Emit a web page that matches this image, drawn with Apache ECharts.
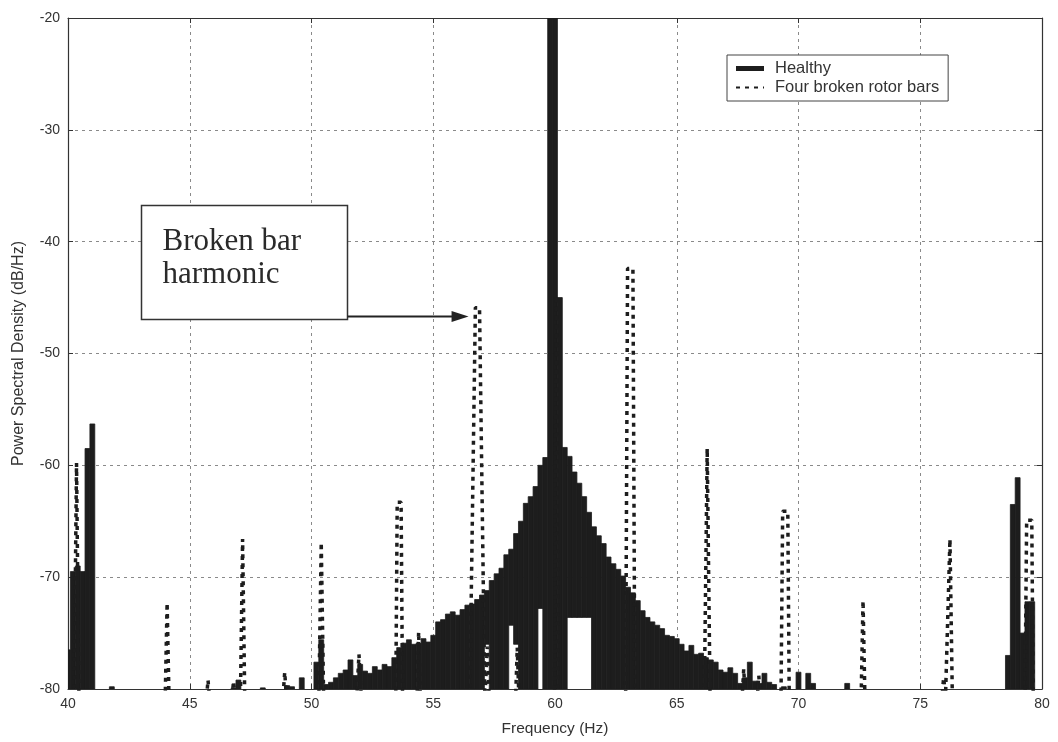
<!DOCTYPE html>
<html>
<head>
<meta charset="utf-8">
<title>Power Spectral Density</title>
<script src="https://cdn.jsdelivr.net/npm/echarts@6.0.0/dist/echarts.min.js"></script>
<style>
  html, body { margin: 0; padding: 0; background: #fff; }
  #chart { width: 1058px; height: 742px; }
</style>
</head>
<body>
<div id="chart"></div>
<script>
// Frequency bins of the healthy spectrum (Hz)
const freqStart = 40;
const freqStep = 0.2;

// Healthy motor PSD (dB/Hz), one value per 0.2 Hz bin, one row per Hz (x.0 .. x.8)
const healthyPsd = [
  -76.5, -69.5, -69.0, -69.5, -58.5,   // 40
  -56.3, -81, -81, -81, -79.8,         // 41
  -81, -81, -81, -81, -81,             // 42
  -81, -81, -81, -81, -81,             // 43
  -81, -81, -81, -81, -81,             // 44
  -81, -81, -81, -81, -81,             // 45
  -81, -81, -81, -81, -79.9,           // 46
  -79.2, -81, -81, -81, -81,           // 47
  -79.9, -81, -81, -81, -81,           // 48
  -79.7, -79.8, -81, -79.0, -81,       // 49
  -81, -77.6, -75.6, -79.6, -79.4,     // 50
  -79.0, -78.6, -78.3, -77.4, -78.8,   // 51
  -77.8, -78.4, -78.6, -78.0, -78.3,   // 52
  -77.8, -78.0, -77.2, -76.3, -75.9,   // 53
  -75.6, -76.0, -75.9, -75.5, -75.8,   // 54
  -75.2, -74.0, -73.8, -73.3, -73.1,   // 55
  -73.4, -72.9, -72.5, -72.4, -72.0,   // 56
  -71.6, -71.2, -70.3, -69.7, -69.2,   // 57
  -68.0, -67.5, -66.1, -65.0, -63.4,   // 58
  -62.8, -61.9, -60.0, -59.3, -12.0,   // 59
  -12.0, -45.0, -58.4, -59.2, -60.6,   // 60
  -61.6, -62.8, -64.2, -65.5, -66.3,   // 61
  -67.0, -68.2, -68.8, -69.3, -69.9,   // 62
  -70.9, -71.4, -72.1, -73.0, -73.6,   // 63
  -74.0, -74.3, -74.6, -75.2, -75.3,   // 64
  -75.5, -76.0, -76.6, -76.1, -76.9,   // 65
  -76.8, -77.2, -77.4, -77.6, -78.3,   // 66
  -78.5, -78.1, -78.6, -79.5, -79.0,   // 67
  -77.6, -79.3, -79.5, -78.6, -79.4,   // 68
  -79.6, -81, -79.8, -81, -81,         // 69
  -78.5, -81, -78.6, -79.5, -81,       // 70
  -81, -81, -81, -81, -81,             // 71
  -79.5, -81, -81, -81, -81,           // 72
  -81, -81, -81, -81, -81,             // 73
  -81, -81, -81, -81, -81,             // 74
  -81, -81, -81, -81, -81,             // 75
  -81, -81, -81, -81, -81,             // 76
  -81, -81, -81, -81, -81,             // 77
  -81, -81, -81, -77.0, -63.5,         // 78
  -61.1, -75.0, -72.2, -72.2, -81,     // 79
  -81                                  // 80
];

// Healthy bins whose trace does not reach the floor: lowest level (dB/Hz)
const healthyGapFreq = [57.2, 58.2, 58.4, 59.4, 60.6, 60.8, 61.0, 61.2, 61.4];
const healthyGapLow  = [-76.0, -74.3, -76.0, -72.8, -73.6, -73.6, -73.6, -73.6, -73.6];

// Four broken rotor bars: PSD trace vertices (Hz, dB/Hz)
const brokenFreq = [
  40.0, 40.25, 40.35, 40.45,
  43.99, 44.07, 44.15,
  45.68, 45.75, 45.82,
  46.72, 46.8, 46.88,
  47.08, 47.17, 47.26,
  48.82, 48.9, 48.98,
  50.3, 50.4, 50.5,
  51.85, 51.95, 52.05,
  53.46, 53.52, 53.68, 53.74,
  54.33, 54.4, 54.47,
  56.5, 56.73, 56.9, 57.12,
  57.14, 57.22, 57.3,
  58.38, 58.45, 58.52,
  59.98, 60.05, 60.12,
  62.9, 62.98, 63.2, 63.28,
  66.13, 66.25, 66.37,
  67.68, 67.75, 67.82,
  68.3, 68.37, 68.44,
  69.28, 69.35, 69.56, 69.62,
  72.57, 72.65, 72.73,
  75.88, 75.96, 76.04, 76.22, 76.32,
  79.3, 79.37, 79.58, 79.64,
  80.0
];
const brokenPsd = [
  -81, -81, -59.8, -81,
  -81, -72.3, -81,
  -81, -79.2, -81,
  -81, -79.3, -81,
  -81, -66.6, -81,
  -81, -78.5, -81,
  -81, -66.9, -81,
  -81, -76.9, -81,
  -81, -63.3, -63.3, -81,
  -81, -74.9, -81,
  -81, -45.9, -45.9, -81,
  -81, -76.2, -81,
  -81, -76.3, -81,
  -81, -44.8, -81,
  -81, -42.4, -42.4, -81,
  -81, -58.5, -81,
  -81, -78.2, -81,
  -81, -78.8, -81,
  -81, -64.1, -64.1, -81,
  -81, -72.1, -81,
  -81, -79.0, -80.5, -66.6, -81,
  -81, -64.9, -64.9, -81,
  -81
];

// Axis ranges and tick spacing
const freqAxis = { min: 40, max: 80, interval: 5 };
const psdAxis = { min: -80, max: -20, interval: 10 };

const seriesNames = ['Healthy', 'Four broken rotor bars'];

// Annotation: text box corners and arrow tip, in (Hz, dB/Hz)
const noteText = 'Broken bar\nharmonic';
const noteBoxFrom = [43.0, -36.75];
const noteBoxTo = [51.47, -46.95];
const noteArrowTip = [56.45, -46.7];

const INK = '#1d1d1d';
const AXIS_INK = '#333';
const GRID_INK = '#8a8a8a';
const SANS = '"Liberation Sans", Arial, sans-serif';
const SERIF = '"Liberation Serif", "Times New Roman", serif';

const healthyData = healthyPsd.map(function (v, i) {
  const f = Math.round((freqStart + i * freqStep) * 10) / 10;
  const gi = healthyGapFreq.indexOf(f);
  return [f, v, gi >= 0 ? healthyGapLow[gi] : psdAxis.min];
});
const brokenData = brokenFreq.map(function (f, i) { return [f, brokenPsd[i]]; });

function renderHealthyBin(params, api) {
  const f = api.value(0), top = api.value(1), low = api.value(2);
  if (top <= low) return null;
  const a = api.coord([f - freqStep / 2, top]);
  const b = api.coord([f + freqStep / 2, low]);
  const cs = params.coordSys;
  const shape = echarts.graphic.clipRectByRect(
    { x: a[0], y: a[1], width: b[0] - a[0], height: b[1] - a[1] },
    { x: cs.x, y: cs.y, width: cs.width, height: cs.height }
  );
  if (!shape) return null;
  return {
    type: 'rect',
    shape: shape,
    style: { fill: INK, stroke: INK, lineWidth: 0.8 }
  };
}

const tickLabel = { fontFamily: SANS, fontSize: 14, color: AXIS_INK };
const gridLine = { show: true, lineStyle: { color: GRID_INK, width: 1, type: [3, 4] } };
const frameLine = { show: true, onZero: false, lineStyle: { color: AXIS_INK, width: 1.2 } };
const innerTick = { show: true, inside: true, length: 5, lineStyle: { color: AXIS_INK } };

const chart = echarts.init(document.getElementById('chart'), null, { renderer: 'canvas' });

chart.setOption({
  animation: false,
  backgroundColor: '#fff',
  grid: { left: 68, right: 16, top: 18, bottom: 53 },
  xAxis: [
    {
      type: 'value', min: freqAxis.min, max: freqAxis.max, interval: freqAxis.interval,
      axisLine: frameLine, axisTick: innerTick, splitLine: gridLine,
      axisLabel: Object.assign({ margin: 8 }, tickLabel),
      name: 'Frequency (Hz)', nameLocation: 'middle', nameGap: 32,
      nameTextStyle: { fontFamily: SANS, fontSize: 15.5, color: AXIS_INK }
    },
    {
      type: 'value', position: 'top', min: freqAxis.min, max: freqAxis.max, interval: freqAxis.interval,
      axisLine: frameLine, axisTick: innerTick, splitLine: { show: false }, axisLabel: { show: false }
    }
  ],
  yAxis: [
    {
      type: 'value', min: psdAxis.min, max: psdAxis.max, interval: psdAxis.interval,
      axisLine: frameLine, axisTick: innerTick, splitLine: gridLine,
      axisLabel: Object.assign({ margin: 8 }, tickLabel),
      name: 'Power Spectral Density (dB/Hz)', nameLocation: 'middle', nameGap: 41,
      nameTextStyle: { fontFamily: SANS, fontSize: 16, color: AXIS_INK }
    },
    {
      type: 'value', position: 'right', min: psdAxis.min, max: psdAxis.max, interval: psdAxis.interval,
      axisLine: frameLine, axisTick: innerTick, splitLine: { show: false }, axisLabel: { show: false }
    }
  ],
  legend: {
    orient: 'vertical', left: 727, top: 55,
    itemWidth: 28, itemHeight: 5, itemGap: 2,
    padding: [5, 9, 5, 8],
    backgroundColor: '#fff', borderColor: '#444', borderWidth: 1, borderRadius: 0,
    textStyle: { fontFamily: SANS, fontSize: 16.5, color: AXIS_INK, padding: [0, 0, 0, 6] },
    data: [
      { name: seriesNames[0], icon: 'rect' },
      { name: seriesNames[1], itemStyle: { color: 'rgba(0,0,0,0)', borderWidth: 0, borderColor: 'rgba(0,0,0,0)' } }
    ]
  },
  series: [
    {
      name: seriesNames[0], type: 'custom', clip: true,
      itemStyle: { color: INK },
      encode: { x: 0, y: [1, 2] },
      renderItem: renderHealthyBin,
      data: healthyData, z: 2
    },
    {
      name: seriesNames[1], type: 'line', clip: true,
      symbol: 'none', showSymbol: false,
      itemStyle: { color: INK },
      lineStyle: { color: INK, width: 3.5, type: [4, 5] },
      data: brokenData, z: 3
    }
  ]
});

// Annotation box with arrow to the broken bar harmonic
const bf = chart.convertToPixel({ seriesIndex: 1 }, noteBoxFrom);
const bt = chart.convertToPixel({ seriesIndex: 1 }, noteBoxTo);
const tip = chart.convertToPixel({ seriesIndex: 1 }, noteArrowTip);
const boxX = Math.round(bf[0]) + 0.5, boxY = Math.round(bf[1]) + 0.5;
const boxW = Math.round(bt[0] - bf[0]), boxH = Math.round(bt[1] - bf[1]);

chart.setOption({
  graphic: [
    {
      type: 'rect', z: 20,
      shape: { x: boxX, y: boxY, width: boxW, height: boxH },
      style: { fill: '#fff', stroke: '#333', lineWidth: 1.5 }
    },
    {
      type: 'text', z: 21,
      style: {
        text: noteText, x: boxX + 21, y: boxY + 20,
        font: '31px ' + SERIF, fill: '#2a2a2a', lineHeight: 33,
        verticalAlign: 'top', align: 'left'
      }
    },
    {
      type: 'line', z: 21,
      shape: { x1: boxX + boxW, y1: tip[1], x2: tip[0] - 12, y2: tip[1] },
      style: { stroke: '#222', lineWidth: 2 }
    },
    {
      type: 'polygon', z: 21,
      shape: { points: [[tip[0] - 17, tip[1] - 5.5], [tip[0], tip[1]], [tip[0] - 17, tip[1] + 5.5]] },
      style: { fill: '#222' }
    }
  ]
});
</script>
</body>
</html>
